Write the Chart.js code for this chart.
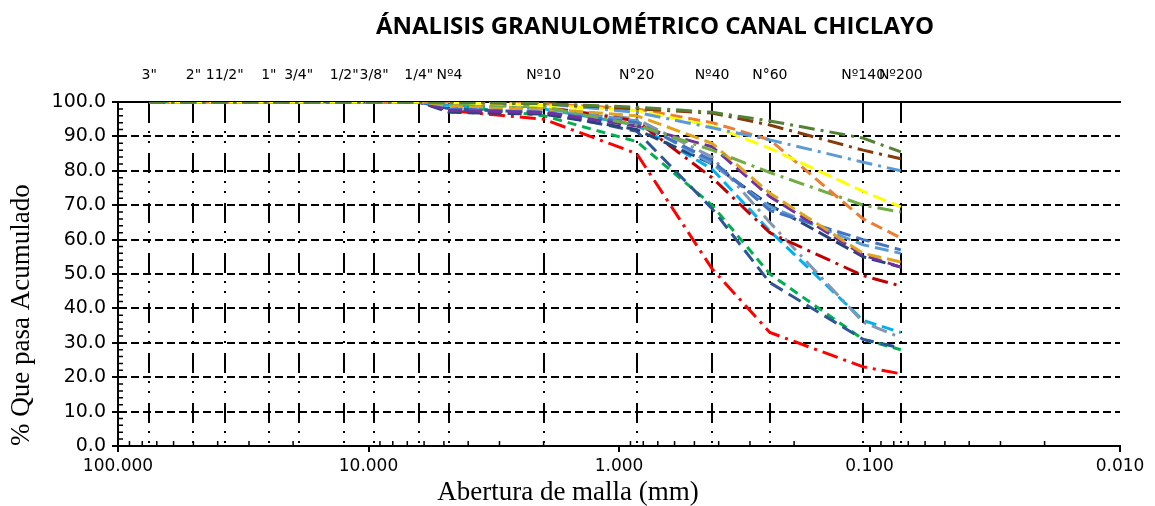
<!DOCTYPE html>
<html>
<head>
<meta charset="utf-8">
<script src="https://cdn.jsdelivr.net/npm/chart.js@4.4.1/dist/chart.umd.min.js"></script>
<style>
  body { margin: 0; background: #fff; }
  canvas { display: block; }
</style>
</head>
<body>
<canvas id="granChart" width="1155" height="506"></canvas>
<script>
// tamices (mm) y sus nombres
const sieveSizes = [75, 50, 37.5, 25, 19, 12.5, 9.5, 6.3, 4.75, 2.0, 0.85, 0.425, 0.25, 0.106, 0.075];
const sieveLabels = ['3"', '2"', '11/2"', '1"', '3/4"', '1/2"', '3/8"', '1/4"', 'Nº4', 'Nº10', 'N°20', 'Nº40', 'N°60', 'Nº140', 'Nº200'];
const axisTicks = [100, 10, 1, 0.1, 0.01];

// % que pasa de cada muestra
const m01 = [100, 100, 100, 100, 100, 100, 100, 100, 97.5, 95.0, 85.0, 51.5, 33.0, 23.0, 21.0];
const m02 = [100, 100, 100, 100, 100, 100, 100, 100, 99.0, 96.0, 88.5, 70.0, 50.0, 31.0, 28.0];
const m03 = [100, 100, 100, 100, 100, 100, 100, 100, 98.0, 97.0, 91.5, 69.0, 47.5, 31.0, 28.5];
const m04 = [100, 100, 100, 100, 100, 100, 100, 100, 99.0, 98.0, 93.3, 80.5, 62.5, 36.5, 33.0];
const m05 = [100, 100, 100, 100, 100, 100, 100, 100, 99.5, 98.5, 95.0, 84.0, 65.0, 36.0, 31.5];
const m06 = [100, 100, 100, 100, 100, 100, 100, 100, 99.5, 98.5, 94.5, 78.0, 62.0, 49.5, 46.5];
const m07 = [100, 100, 100, 100, 100, 100, 100, 100, 97.5, 97.0, 93.0, 87.0, 72.5, 55.5, 52.0];
const m08 = [100, 100, 100, 100, 100, 100, 100, 100, 99.0, 98.0, 96.0, 88.0, 73.5, 56.0, 53.5];
const m09 = [100, 100, 100, 100, 100, 100, 100, 100, 98.0, 97.0, 94.0, 83.0, 68.5, 60.0, 57.0];
const m10 = [100, 100, 100, 100, 100, 100, 100, 100, 99.0, 98.0, 94.5, 82.0, 69.5, 58.5, 56.0];
const m11 = [100, 100, 100, 100, 100, 100, 100, 100, 97.0, 96.5, 92.0, 82.0, 70.0, 55.0, 52.0];
const m12 = [100, 100, 100, 100, 100, 100, 100, 100, 100, 99.5, 98.0, 94.0, 89.0, 66.0, 60.5];
const m13 = [100, 100, 100, 100, 100, 100, 100, 100, 100, 99.0, 97.5, 93.0, 86.5, 74.0, 69.5];
const m14 = [100, 100, 100, 100, 100, 100, 100, 100, 99.5, 98.5, 93.3, 86.0, 79.5, 70.0, 68.0];
const m15 = [100, 100, 100, 100, 100, 100, 100, 100, 100, 99.5, 97.0, 92.5, 89.0, 82.5, 80.0];
const m16 = [100, 100, 100, 100, 100, 100, 100, 100, 100, 99.5, 98.0, 96.8, 93.3, 86.0, 83.5];
const m17 = [100, 100, 100, 100, 100, 100, 100, 100, 100, 99.5, 98.5, 97.0, 94.5, 89.5, 85.5];

const muestras = [m17, m16, m15, m13, m12, m14, m08, m07, m09, m10, m11, m06, m05, m04, m03, m02, m01];
const colores = ['#548235', '#843C0C', '#5B9BD5', '#FFFF00', '#ED7D31', '#70AD47', '#E1A31A', '#7030A0',
  '#4472C4', '#5B9BD5', '#264478', '#C00000', '#8497B0', '#00B0F0', '#2F5597', '#00B050', '#FF0000'];
const dashDot = [16, 6, 3, 6];
const trazos = [dashDot, dashDot, dashDot, [14, 6], [12, 6], dashDot, [14, 6], [14, 6],
  [14, 6], [14, 6], [14, 6], dashDot, dashDot, [12, 6], [14, 7], [9, 6], dashDot];

Chart.defaults.font.family = 'DejaVu Sans';
Chart.defaults.color = '#000';

const minorTicks = {
  id: 'minorTicks',
  afterDraw(chart) {
    const { ctx, chartArea, scales: { x, y } } = chart;
    ctx.save();
    ctx.strokeStyle = '#000';
    ctx.lineWidth = 1.5;
    ctx.beginPath();
    [0.01, 0.1, 1, 10].forEach(d => {
      for (let k = 2; k < 10; k++) {
        const px = x.getPixelForValue(k * d);
        ctx.moveTo(px, chartArea.bottom);
        ctx.lineTo(px, chartArea.bottom - 5);
      }
    });
    for (let v = 2; v < 100; v += 2) {
      if (v % 10 === 0) continue;
      const py = y.getPixelForValue(v);
      ctx.moveTo(chartArea.left, py);
      ctx.lineTo(chartArea.left + 5, py);
    }
    ctx.stroke();
    ctx.restore();
  }
};

const titles = {
  id: 'titles',
  afterDraw(chart) {
    const ctx = chart.ctx;
    ctx.save();
    ctx.fillStyle = '#000';
    ctx.textAlign = 'center';
    ctx.textBaseline = 'middle';
    ctx.font = 'bold 24px "Open Sans"';
    ctx.fillText('ÁNALISIS GRANULOMÉTRICO CANAL CHICLAYO', 655, 27);
    ctx.font = '27px "Liberation Serif"';
    ctx.fillText('Abertura de malla (mm)', 568, 493);
    ctx.restore();
  }
};

const ctx = document.getElementById('granChart').getContext('2d');
new Chart(ctx, {
  type: 'line',
  data: {
    datasets: muestras.map((m, i) => ({
      data: m.map((v, j) => ({ x: sieveSizes[j], y: v })),
      borderColor: colores[i],
      borderDash: trazos[i],
      borderWidth: 3,
      pointRadius: 0,
      tension: 0,
      fill: false,
      xAxisID: 'x',
      yAxisID: 'y'
    }))
  },
  options: {
    responsive: false,
    animation: false,
    layout: { padding: { top: 0, right: 35, bottom: 0, left: 0 } },
    plugins: {
      legend: { display: false },
      tooltip: { enabled: false }
    },
    scales: {
      x: {
        type: 'logarithmic',
        position: 'bottom',
        reverse: true,
        min: 0.01,
        max: 100,
        afterBuildTicks: s => { s.ticks = axisTicks.map(v => ({ value: v })); },
        afterFit: s => { s.height = 60; },
        ticks: {
          autoSkip: false,
          maxRotation: 0,
          padding: 4,
          font: { size: 17 },
          callback: v => Number(v).toFixed(3)
        },
        grid: { drawOnChartArea: false, drawTicks: true, tickLength: 6, color: '#000', lineWidth: 2 },
        border: { display: true, color: '#000', width: 2 }
      },
      x2: {
        type: 'logarithmic',
        position: 'top',
        reverse: true,
        min: 0.01,
        max: 100,
        afterBuildTicks: s => { s.ticks = sieveSizes.map(v => ({ value: v })); },
        afterFit: s => { s.height = 102; },
        ticks: {
          autoSkip: false,
          maxRotation: 0,
          minRotation: 0,
          padding: 18,
          font: { size: 14 },
          callback: (v, i) => sieveLabels[i]
        },
        grid: { drawOnChartArea: true, drawTicks: false, color: '#000', lineWidth: 2 },
        border: { display: true, color: '#000', width: 2, dash: [20, 8, 2, 8, 2, 10] }
      },
      y: {
        min: 0,
        max: 100,
        afterFit: s => { s.width = 118; },
        ticks: {
          stepSize: 10,
          padding: 6,
          font: { size: 19 },
          callback: v => Number(v).toFixed(1)
        },
        title: {
          display: true,
          align: 'start',
          text: '% Que pasa Acumulado',
          font: { family: 'Liberation Serif', size: 27 },
          padding: { top: 6, bottom: 0 }
        },
        grid: { drawOnChartArea: true, drawTicks: true, tickLength: 6, color: '#000', lineWidth: 2 },
        border: { display: true, color: '#000', width: 2, dash: [8, 4] }
      }
    }
  },
  plugins: [minorTicks, titles]
});
</script>
</body>
</html>
